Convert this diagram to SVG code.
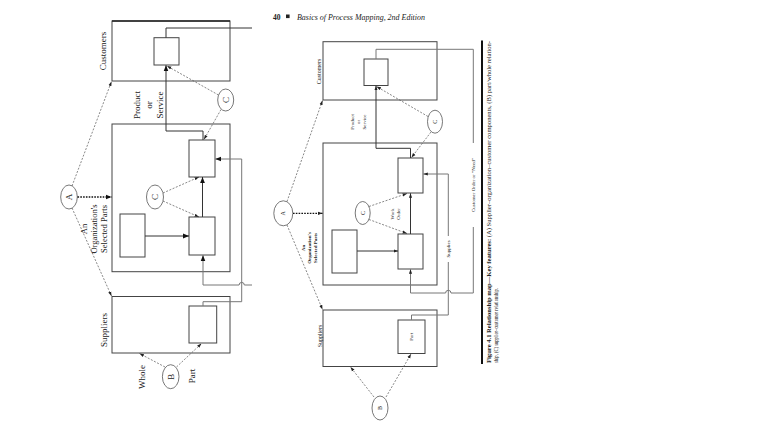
<svg xmlns="http://www.w3.org/2000/svg" width="768" height="433" viewBox="0 0 768 433">
<defs>
<marker id="ah" viewBox="0 0 10 10" refX="10" refY="5" markerWidth="6" markerHeight="6" markerUnits="userSpaceOnUse" orient="auto"><path d="M0,1 L10,5 L0,9 z" fill="#111"/></marker>
<marker id="ahs" viewBox="0 0 10 10" refX="10" refY="5" markerWidth="4.5" markerHeight="4.5" markerUnits="userSpaceOnUse" orient="auto"><path d="M0,1.5 L10,5 L0,8.5 z" fill="#222"/></marker>
</defs>
<style>
.box{fill:none;stroke:#444;stroke-width:1}
.ibox{fill:#fff;stroke:#444;stroke-width:1}
.circ{fill:#fff;stroke:#555;stroke-width:0.8}
.ln{fill:none;stroke:#333;stroke-width:1}
.gl{fill:none;stroke:#777;stroke-width:1}
.ds{fill:none;stroke:#555;stroke-width:0.7;stroke-dasharray:2,1.5}
.dt{fill:none;stroke:#111;stroke-width:1.3;stroke-dasharray:1.6,1.2}
text{font-family:"Liberation Serif","Times New Roman",serif;fill:#222}
.l{font-size:9px}
.s{font-size:6px}
.xs{font-size:5px}
</style>
<rect width="768" height="433" fill="#fff"/>

<!-- LEFT DIAGRAM -->
<g id="left-diagram">
<g id="L-customers">
<rect class="box" x="112" y="21" width="118" height="60"/>
<line x1="112" y1="21" x2="230" y2="21" stroke="#222" stroke-width="1.3"/>
<rect class="ibox" x="154" y="37.7" width="25" height="27.3"/>
<text class="l" transform="translate(103,51) rotate(-90)" text-anchor="middle" dominant-baseline="central">Customers</text>
</g>
<g id="L-org">
<rect class="box" x="112" y="124" width="118" height="147.7"/>
<rect class="ibox" x="189" y="140" width="26" height="37"/>
<rect class="ibox" x="189" y="217" width="26" height="38"/>
<rect class="ibox" x="120" y="214" width="25" height="43"/>
<text font-size="8.5" transform="translate(94,229) rotate(-90)" text-anchor="middle" dominant-baseline="central"><tspan x="0" dy="-9.8">An</tspan><tspan x="0" dy="9.8">Organization's</tspan><tspan x="0" dy="9.8">Selected Parts</tspan></text>
</g>
<g id="L-suppliers">
<rect class="box" x="112" y="296.5" width="118" height="56.5"/>
<rect class="ibox" x="189" y="306" width="27.7" height="37"/>
<text class="l" transform="translate(104,330) rotate(-90)" text-anchor="middle" dominant-baseline="central">Suppliers</text>
</g>
<g id="L-A"><ellipse class="circ" cx="69" cy="197" rx="8.3" ry="12"/><text class="l" transform="translate(69,197) rotate(-90)" text-anchor="middle" dominant-baseline="central">A</text></g>
<g id="L-C1"><ellipse class="circ" cx="155" cy="197" rx="8.5" ry="12"/><text class="l" transform="translate(155,197) rotate(-90)" text-anchor="middle" dominant-baseline="central">C</text></g>
<g id="L-C2"><ellipse class="circ" cx="225.7" cy="100" rx="8" ry="11"/><text class="l" transform="translate(225.7,100) rotate(-90)" text-anchor="middle" dominant-baseline="central">C</text></g>
<g id="L-B"><ellipse class="circ" cx="170.7" cy="376.7" rx="8.3" ry="12"/><text class="l" transform="translate(170.7,376.7) rotate(-90)" text-anchor="middle" dominant-baseline="central">B</text></g>
<g id="L-labels">
<text class="l" transform="translate(148.5,105) rotate(-90)" text-anchor="middle" dominant-baseline="central"><tspan x="0" dy="-11.5">Product</tspan><tspan x="0" dy="11.5">or</tspan><tspan x="0" dy="11.5">Service</tspan></text>
<text class="l" transform="translate(142,377) rotate(-90)" text-anchor="middle" dominant-baseline="central">Whole</text>
<text class="l" transform="translate(192,376) rotate(-90)" text-anchor="middle" dominant-baseline="central">Part</text>
</g>
<g id="L-connectors">
<line class="dt" x1="77.5" y1="197" x2="111.5" y2="197" marker-end="url(#ah)"/>
<line class="ds" x1="72" y1="186" x2="111.5" y2="81.5" marker-end="url(#ahs)"/>
<line class="ds" x1="72" y1="208" x2="111.5" y2="296" marker-end="url(#ahs)"/>
<line class="ln" x1="145" y1="236" x2="189" y2="236" marker-end="url(#ah)"/>
<line class="ln" x1="202.5" y1="217" x2="202.5" y2="177" marker-end="url(#ah)"/>
<line class="ds" x1="163" y1="201" x2="199" y2="217" marker-end="url(#ahs)"/>
<line class="ds" x1="163" y1="193" x2="199" y2="177" marker-end="url(#ahs)"/>
<path class="ln" d="M203,140 V131 H166 V65.3" marker-end="url(#ah)"/>
<line class="ds" x1="218.5" y1="95" x2="167" y2="66" marker-end="url(#ahs)"/>
<line class="ds" x1="221" y1="109.5" x2="204" y2="139.5" marker-end="url(#ahs)"/>
<path class="ln" d="M166,37.7 V28 H252" stroke="#222"/>
<path class="gl" d="M203,306 V301.7 H241.7 V159 H215.3" marker-end="url(#ah)"/>
<path class="gl" d="M252,285 H244.3 A2.6,2.6 0 0 0 239.1,285 H203 V255.3" marker-end="url(#ah)"/>
<line class="ds" x1="165" y1="367" x2="139.5" y2="353.5" marker-end="url(#ahs)"/>
<line class="ds" x1="176.5" y1="367" x2="201.5" y2="343.5" marker-end="url(#ahs)"/>
</g>
</g>

<!-- HEADER -->
<g id="header">
<text x="273" y="19.5" font-size="7.5" font-weight="bold">40</text>
<rect x="286" y="14.5" width="3.6" height="3.6" fill="#222"/>
<text x="297" y="19.5" font-size="7.5" font-style="italic" textLength="128" lengthAdjust="spacingAndGlyphs">Basics of Process Mapping, 2nd Edition</text>
</g>

<!-- RIGHT DIAGRAM -->
<g id="right-diagram">
<g id="R-customers">
<rect class="box" x="323" y="41.7" width="114" height="58.3"/>
<rect class="ibox" x="364" y="59" width="24" height="26.5"/>
<text class="s" transform="translate(318.5,71.5) rotate(-90)" text-anchor="middle" dominant-baseline="central">Customers</text>
</g>
<g id="R-org">
<rect class="box" x="323" y="143" width="114" height="142"/>
<rect class="ibox" x="398" y="158" width="25" height="35"/>
<rect class="ibox" x="398" y="234" width="25" height="35"/>
<rect class="ibox" x="332" y="230" width="25" height="43"/>
<text class="xs" font-weight="bold" transform="translate(309,248) rotate(-90)" text-anchor="middle" dominant-baseline="central"><tspan x="0" dy="-5.8">An</tspan><tspan x="0" dy="5.8">Organization's</tspan><tspan x="0" dy="5.8">Selected Parts</tspan></text>
<text class="xs" transform="translate(395,214) rotate(-90)" text-anchor="middle" dominant-baseline="central"><tspan x="0" dy="-3">Work</tspan><tspan x="0" dy="6">Order</tspan></text>
</g>
<g id="R-suppliers">
<rect class="box" x="323" y="310" width="114" height="56.5"/>
<rect class="ibox" x="398" y="320" width="27" height="33.5"/>
<text class="xs" transform="translate(411.5,336.7) rotate(-90)" text-anchor="middle" dominant-baseline="central">Part</text>
<text class="s" transform="translate(320,336) rotate(-90)" text-anchor="middle" dominant-baseline="central">Suppliers</text>
</g>
<g id="R-A"><ellipse class="circ" cx="283.3" cy="213.3" rx="9.5" ry="12.5"/><text class="s" transform="translate(283.3,213.3) rotate(-90)" text-anchor="middle" dominant-baseline="central">A</text></g>
<g id="R-C1"><ellipse class="circ" cx="362.7" cy="213" rx="7.5" ry="11.5"/><text class="s" transform="translate(362.7,213) rotate(-90)" text-anchor="middle" dominant-baseline="central">C</text></g>
<g id="R-C2"><ellipse class="circ" cx="435" cy="121.7" rx="7.5" ry="11.5"/><text class="s" transform="translate(435,121.7) rotate(-90)" text-anchor="middle" dominant-baseline="central">C</text></g>
<g id="R-B"><ellipse class="circ" cx="380" cy="408" rx="8" ry="12"/><text class="s" transform="translate(380,408) rotate(-90)" text-anchor="middle" dominant-baseline="central">B</text></g>
<g id="R-labels">
<text class="xs" transform="translate(357.5,122) rotate(-90)" text-anchor="middle" dominant-baseline="central"><tspan x="0" dy="-6">Product</tspan><tspan x="0" dy="6">or</tspan><tspan x="0" dy="6">Service</tspan></text>
<text class="xs" transform="translate(448.3,249) rotate(-90)" text-anchor="middle" dominant-baseline="central">Supplies</text>
<text class="xs" transform="translate(473.3,185) rotate(-90)" text-anchor="middle" dominant-baseline="central">Customer Order or “Need”</text>
</g>
<g id="R-connectors">
<line class="dt" x1="293" y1="213.3" x2="322.5" y2="213.3" marker-end="url(#ahs)"/>
<line class="ds" x1="287" y1="201.5" x2="322.5" y2="100.5" marker-end="url(#ahs)"/>
<line class="ds" x1="287" y1="225" x2="322.5" y2="309.5" marker-end="url(#ahs)"/>
<line class="ln" x1="357" y1="251" x2="398" y2="251" marker-end="url(#ahs)"/>
<line class="ln" x1="410.5" y1="234" x2="410.5" y2="193.3" marker-end="url(#ahs)"/>
<line class="ds" x1="369" y1="219.5" x2="407" y2="233.5" marker-end="url(#ahs)"/>
<line class="ds" x1="369" y1="206.5" x2="407" y2="193.5" marker-end="url(#ahs)"/>
<path class="ln" d="M410.5,158 V148.3 H376 V85.8" marker-end="url(#ahs)"/>
<line class="ds" x1="428" y1="116.5" x2="376.5" y2="86.5" marker-end="url(#ahs)"/>
<line class="ds" x1="431" y1="132" x2="411.5" y2="157.5" marker-end="url(#ahs)"/>
<path class="gl" d="M376,59 V49.3 H473.3 V143"/>
<path class="gl" d="M473.3,227 V293 H451 A2.7,2.7 0 0 0 445.6,293 H410.5 V269.3" marker-end="url(#ahs)"/>
<path class="gl" d="M411.5,320 V315 H448.3 V262"/>
<path class="gl" d="M448.3,236 V174 H423.3" marker-end="url(#ahs)"/>
<line class="ds" x1="374" y1="397" x2="350.5" y2="367" marker-end="url(#ahs)"/>
<line class="ds" x1="386" y1="397" x2="411" y2="354" marker-end="url(#ahs)"/>
</g>
</g>

<!-- CAPTION -->
<g id="caption">
<line x1="482" y1="40.5" x2="482" y2="364" stroke="#111" stroke-width="2"/>
<text font-size="5.8" transform="translate(491,363) rotate(-90)" textLength="322" lengthAdjust="spacingAndGlyphs"><tspan font-weight="bold">Figure 4.1   Relationship map—Key features:</tspan> (A) Supplier–organization–customer components, (B) part/whole relation-</text>
<text font-size="5.8" transform="translate(497.5,363) rotate(-90)" textLength="75" lengthAdjust="spacingAndGlyphs">ship, (C) supplier–customer relationship.</text>
</g>
</svg>
